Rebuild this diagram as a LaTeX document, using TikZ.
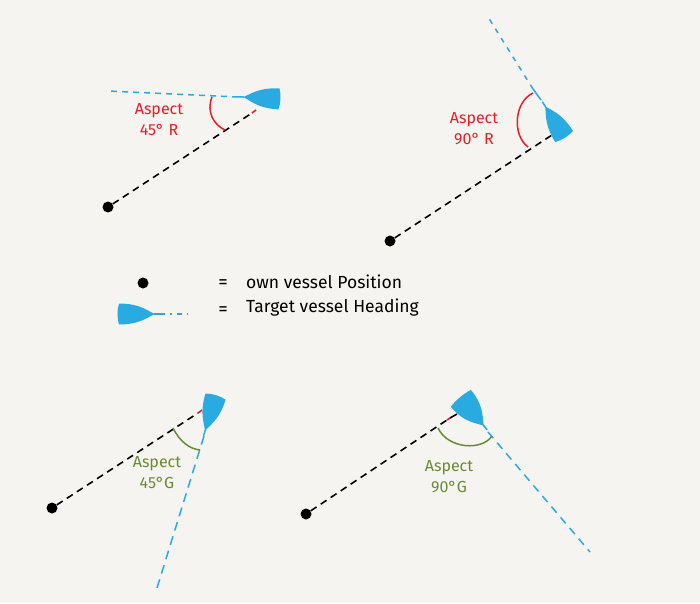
\documentclass[tikz,border=0pt]{standalone}
\usepackage{fontspec}
\setmainfont{Fira Sans}
\definecolor{bg}{RGB}{245,244,240}
\definecolor{boatblue}{RGB}{41,171,226}
\definecolor{aspred}{RGB}{232,30,40}
\definecolor{aspgreen}{RGB}{104,140,48}
\begin{document}
\begin{tikzpicture}[x=1pt,y=1pt,
  own/.style={circle,fill=black,inner sep=0pt,minimum size=11pt},
  sight/.style={draw=black,line width=1.6pt,dash pattern=on 7pt off 5pt},
  headline/.style={draw=boatblue,line width=1.5pt,dash pattern=on 6pt off 5pt},
  redarc/.style={draw=aspred,line width=1.5pt},
  greenarc/.style={draw=aspgreen,line width=1.5pt},
  redlbl/.style={text=aspred,font=\fontsize{16}{21}\selectfont,align=center,inner sep=0pt},
  greenlbl/.style={text=aspgreen,font=\fontsize{16}{21}\selectfont,align=center,inner sep=0pt},
  legtext/.style={font=\fontsize{17.5}{21}\selectfont,anchor=west,inner sep=0pt},
  legeq/.style={font=\fontsize{19}{21}\selectfont,inner sep=0pt},
  boat/.pic={\fill[boatblue] (0,0) .. controls (-6,2) and (-14,10.5) .. (-36,10.5)
     .. controls (-38,4) and (-38,-4) .. (-36,-10.5)
     .. controls (-14,-10.5) and (-6,-2) .. (0,0) -- cycle;
     \draw[boatblue,line width=1.5pt] (-1,0) -- (5,0);}
]
\fill[bg] (0,-603) rectangle (700,0);
\useasboundingbox (0,-603) rectangle (700,0);

% ---------- Panel 1: 45 R ----------
\node[own] (o1) at (108,-207) {};
\coordinate (s1) at (252,-113);
\coordinate (r1) at (256,-110);
\draw[sight] (o1) -- (s1);
\draw[aspred,line width=1.6pt] (s1) -- (r1);
\pic[rotate=177] at (243,-97) {boat};
\coordinate (b1) at (238,-97);
\coordinate (h1) at (108,-91);
\draw[headline] (b1) -- (h1);
\coordinate (a1s) at (212,-97);
\coordinate (a1e) at (225,-130);
\draw[redarc] (a1s) .. controls (206,-112) and (214,-125) .. (a1e);
\node[redlbl] (t1) at (159,-120) {Aspect\\45° R};

% ---------- Panel 2: 90 R ----------
\node[own] (o2) at (390,-241) {};
\coordinate (s2) at (552,-135);
\draw[sight] (o2) -- (s2);
\pic[rotate=122] at (545,-106) {boat};
\coordinate (b2) at (541,-100);
\coordinate (k2) at (533,-89);
\coordinate (h2) at (488,-17);
\draw[boatblue,line width=1.5pt] (b2) -- (k2);
\draw[headline,dash pattern=on 5pt off 6pt] (k2) -- (h2);
\coordinate (a2s) at (533,-93);
\coordinate (a2e) at (528,-147);
\draw[redarc] (a2s) .. controls (514,-102) and (512,-135) .. (a2e);
\node[redlbl] (t2) at (474,-129) {Aspect\\90° R};

% ---------- Legend ----------
\node[own] (lo) at (143,-283) {};
\node[legeq] (eq1) at (223,-284) {=};
\node[legtext] (le1) at (246,-282) {own vessel Position};
\pic[rotate=0] at (155,-314) {boat};
\coordinate (lh0) at (160,-314);
\coordinate (lh1) at (188,-314);
\draw[boatblue,line width=1.5pt,dash pattern=on 5pt off 5pt on 2pt off 5pt] (lh0) -- (lh1);
\node[legeq] (eq2) at (223,-311) {=};
\node[legtext] (le2) at (246,-308) {Target vessel Heading};

% ---------- Panel 3: 45 G ----------
\node[own] (o3) at (52,-508) {};
\coordinate (s3) at (198,-413);
\coordinate (r3) at (202,-410);
\draw[sight] (o3) -- (s3);
\draw[aspred,line width=1.6pt] (s3) -- (r3);
\pic[rotate=253] at (205,-431) {boat};
\coordinate (b3) at (204,-436);
\coordinate (h3) at (157,-588);
\draw[headline,dash pattern=on 9pt off 6pt] (b3) -- (h3);
\coordinate (a3s) at (173,-428);
\coordinate (a3e) at (200,-450);
\draw[greenarc] (a3s) .. controls (180,-442) and (190,-449) .. (a3e);
\node[greenlbl] (t3) at (157,-473) {Aspect\\45°G};

% ---------- Panel 4: 90 G ----------
\node[own] (o4) at (306,-514) {};
\coordinate (s4) at (447,-420);
\coordinate (r4) at (450,-418);
\coordinate (s4b) at (457,-414);
\draw[sight] (o4) -- (s4);
\draw[aspred,line width=1.6pt] (s4) -- (r4);
\draw[black,line width=1.6pt] (r4) -- (s4b);
\pic[rotate=-50,yscale=1.25] at (484,-426) {boat};
\coordinate (b4) at (488,-432);
\coordinate (h4) at (590,-552);
\draw[headline,dash pattern=on 8pt off 6pt] (b4) -- (h4);
\coordinate (a4s) at (438,-428);
\coordinate (a4e) at (492,-436);
\draw[greenarc] (a4s) .. controls (448,-449) and (482,-451) .. (a4e);
\node[greenlbl] (t4) at (449,-477) {Aspect\\90°G};
\end{tikzpicture}
\end{document}
